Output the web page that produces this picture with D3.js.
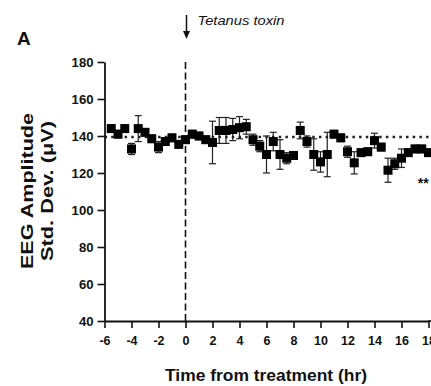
<!DOCTYPE html>
<html><head><meta charset="utf-8">
<script src="https://cdn.jsdelivr.net/npm/d3@7/dist/d3.min.js"></script>
<style>
body{margin:0;background:#fff;}
svg{display:block;}
text{font-family:"Liberation Sans",Arial,Helvetica,sans-serif;fill:#111;}
</style></head>
<body>
<svg id="chart" width="431" height="386"></svg>
<script>
// ---- data ----
const times = [-5.5,-5,-4.5,-4,-3.5,-3,-2.5,-2,-1.5,-1,-0.5,0,0.5,1,1.5,2,2.5,3,3.5,4,4.5,5,5.5,6,6.5,7,7.5,8,8.5,9,9.5,10,10.5,11,11.5,12,12.5,13,13.5,14,14.5,15,15.5,16,16.5,17,17.5,18];
const values = [144,141,144,133,144,142,138.5,134,137,139,135.5,138,141,140,138,136.5,143,143,143.5,144.5,145,138,134.5,130,137,130,128,129.5,143,137,130,126,130,141,139,131.5,125.5,131,131.5,137.5,134,121.5,125,128,131,133,133,131];
const errors = [2,2,2,3,7,2,2,3,2,2,2,2,2,2,2,11.5,7,7,6,6,4,3,3,10,5,8,3,2,4.5,3,8.5,5.5,12,2,2,3,6,2,2,4,2,6.5,3,5,2,2,2,2];
const baselineValue = 139.5;
const yTicks = [40,60,80,100,120,140,160,180];
const xTicks = [-6,-4,-2,0,2,4,6,8,10,12,14,16,18];
const treatmentTime = 0;
const yTitle = ["EEG Amplitude","Std. Dev. (\u03BCV)"];
const xTitle = "Time from treatment (hr)";
const panelLabel = "A";
const annotation = "Tetanus toxin";
const sigMark = "**";
const sigTime = 17.2;
const sigValue = 112;

// ---- layout ----
const svg = d3.select("#chart");
const x = d3.scaleLinear().domain([-6,18]).range([104.5,428.5]);
const y = d3.scaleLinear().domain([40,180]).range([321,62]);

function stretch(sel, f){
  sel.each(function(){
    const w = this.getComputedTextLength();
    this.setAttribute("textLength", w*f);
    this.setAttribute("lengthAdjust","spacingAndGlyphs");
  });
}
function fitTo(sel, len){
  sel.attr("textLength", len).attr("lengthAdjust","spacingAndGlyphs");
}

// baseline dotted line
svg.append("line")
  .attr("x1", x(-6)).attr("x2", x(18))
  .attr("y1", y(baselineValue)).attr("y2", y(baselineValue))
  .attr("stroke","#222").attr("stroke-width",2.5).attr("stroke-dasharray","2.5,4.2");

// dashed treatment line
svg.append("line")
  .attr("x1", x(treatmentTime)).attr("x2", x(treatmentTime))
  .attr("y1", y(180)).attr("y2", y(40))
  .attr("stroke","#111").attr("stroke-width",1.6).attr("stroke-dasharray","7,3.5");

// axes
const yAxis = svg.append("g").attr("transform",`translate(${x(-6)},0)`)
  .call(d3.axisLeft(y).tickValues(yTicks).tickSize(7).tickPadding(4).tickSizeOuter(0));
const xAxis = svg.append("g").attr("transform",`translate(0,${y(40)})`)
  .call(d3.axisBottom(x).tickValues(xTicks).tickSize(7).tickPadding(8).tickSizeOuter(0));
[yAxis,xAxis].forEach(g=>{
  g.select(".domain").attr("stroke","#111").attr("stroke-width",1.8);
  g.selectAll(".tick line").attr("stroke","#111").attr("stroke-width",1.6);
  g.selectAll(".tick text").attr("font-family","Liberation Sans, Arial, sans-serif")
    .attr("font-size",12.5).attr("font-weight","bold").attr("fill","#111");
});
xAxis.selectAll(".tick text").text(d=>d);
stretch(yAxis.selectAll(".tick text"),1.05);
svg.append("line").attr("x1",x(18)).attr("x2",431)
  .attr("y1",y(40)).attr("y2",y(40)).attr("stroke","#111").attr("stroke-width",1.8);

// error bars
const data = times.map((t,i)=>({t, v:values[i], e:errors[i]}));
const eb = svg.append("g").attr("stroke","#222").attr("stroke-width",1.2);
data.forEach(d=>{
  eb.append("line").attr("x1",x(d.t)).attr("x2",x(d.t)).attr("y1",y(d.v-d.e)).attr("y2",y(d.v+d.e));
  [d.v-d.e,d.v+d.e].forEach(vv=>{
    eb.append("line").attr("x1",x(d.t)-3.5).attr("x2",x(d.t)+3.5).attr("y1",y(vv)).attr("y2",y(vv));
  });
});

// markers
svg.append("g").selectAll("rect").data(data).join("rect")
  .attr("x",d=>x(d.t)-4.5).attr("y",d=>y(d.v)-4.5)
  .attr("width",9).attr("height",9).attr("fill","#000");

// significance
svg.append("text").attr("x",x(sigTime)).attr("y",y(sigValue))
  .attr("font-size",14).attr("font-weight","bold").text(sigMark);

// panel label
svg.append("text").attr("x",17).attr("y",45).attr("font-size",19).attr("font-weight","bold").text(panelLabel);

// arrow annotation
const ax = x(treatmentTime)+1;
svg.append("line").attr("x1",ax).attr("x2",ax).attr("y1",15).attr("y2",33)
  .attr("stroke","#111").attr("stroke-width",1.5);
svg.append("path").attr("d",`M${ax-3.5},31 L${ax+3.5},31 L${ax},39 Z`).attr("fill","#111");
fitTo(svg.append("text").attr("x",ax+11).attr("y",25).attr("font-size",12.5)
  .attr("font-style","italic").text(annotation), 87);

// axis titles
const yt = svg.append("g").attr("transform","translate(0,191) rotate(-90)");
fitTo(yt.append("text").attr("x",0).attr("y",33).attr("text-anchor","middle")
  .attr("font-size",17).attr("font-weight","bold").text(yTitle[0]), 156);
fitTo(yt.append("text").attr("x",0).attr("y",53).attr("text-anchor","middle")
  .attr("font-size",17).attr("font-weight","bold").text(yTitle[1]), 140);
fitTo(svg.append("text").attr("x",266).attr("y",381).attr("text-anchor","middle")
  .attr("font-size",16).attr("font-weight","bold").text(xTitle), 202);
</script>
</body></html>
